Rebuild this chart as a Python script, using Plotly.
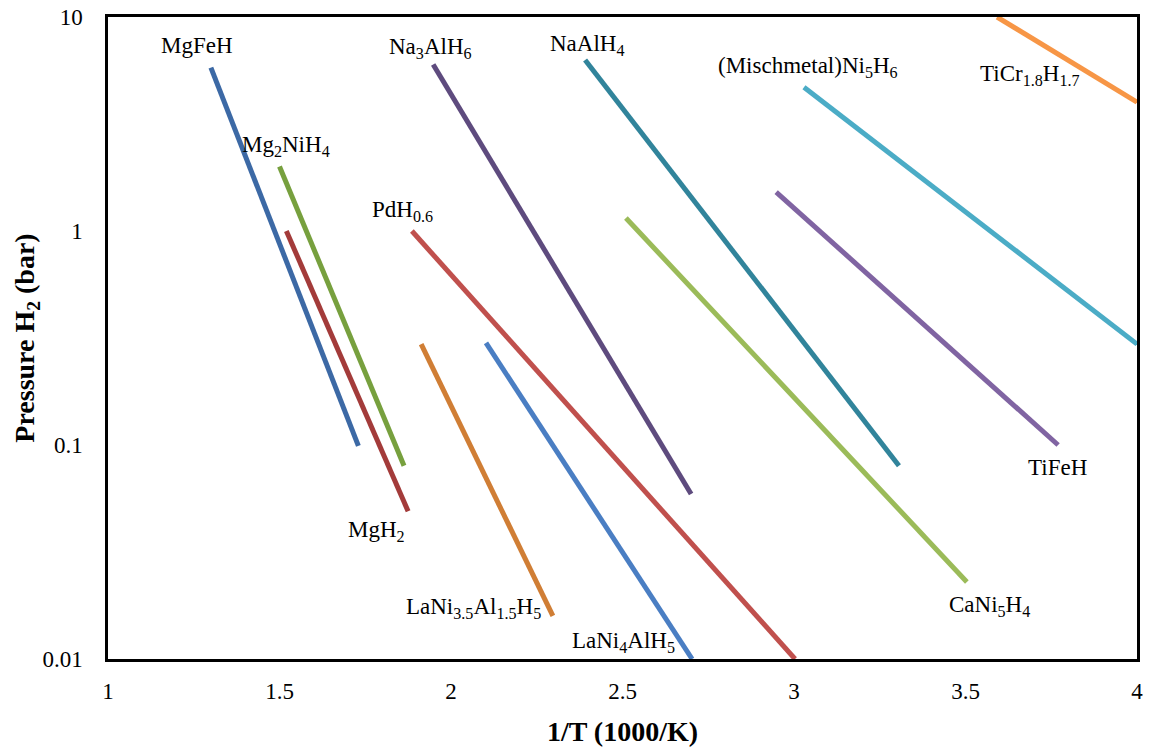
import plotly.graph_objects as go

names = ["MgFeH", "MgH2", "Mg2NiH4", "PdH0.6", "LaNi3.5Al1.5H5", "LaNi4AlH5",
         "Na3AlH6", "NaAlH4", "CaNi5H4", "TiFeH", "(Mischmetal)Ni5H6", "TiCr1.8H1.7"]
x_start = [1.30, 1.52, 1.50, 1.886, 1.913, 2.102, 1.948, 2.391, 2.510, 2.948, 3.029, 3.592]
x_end   = [1.73, 1.875, 1.863, 3.003, 2.297, 2.703, 2.700, 3.306, 3.504, 3.770, 4.0, 4.0]
p_start = [5.8, 1.0, 2.0, 1.0, 0.296, 0.30, 6.0, 6.3, 1.15, 1.52, 4.7, 10.0]
p_end   = [0.099, 0.049, 0.08, 0.01, 0.0159, 0.01, 0.059, 0.08, 0.0229, 0.10, 0.296, 4.0]
colors  = ["#3C69A5", "#A33B3A", "#77A03E", "#C0504D", "#D07E35", "#4A7EC3",
           "#5E4B7E", "#31849B", "#9BBB59", "#8064A2", "#4BACC6", "#F79646"]

label_text = ["MgFeH", "MgH<sub>2</sub>", "Mg<sub>2</sub>NiH<sub>4</sub>", "PdH<sub>0.6</sub>",
              "LaNi<sub>3.5</sub>Al<sub>1.5</sub>H<sub>5</sub>", "LaNi<sub>4</sub>AlH<sub>5</sub>",
              "Na<sub>3</sub>AlH<sub>6</sub>", "NaAlH<sub>4</sub>", "CaNi<sub>5</sub>H<sub>4</sub>",
              "TiFeH", "(Mischmetal)Ni<sub>5</sub>H<sub>6</sub>", "TiCr<sub>1.8</sub>H<sub>1.7</sub>"]
label_x = [1.259, 1.784, 1.519, 1.860, 2.067, 2.504, 1.939, 2.397, 3.569, 3.767, 3.041, 3.688]
label_logy = [0.869, -1.402, 0.397, 0.093, -1.762, -1.921, 0.855, 0.869, -1.752, -1.107, 0.766, 0.729]

x_ticks = [1, 1.5, 2, 2.5, 3, 3.5, 4]
x_ticklabels = ["1", "1.5", "2", "2.5", "3", "3.5", "4"]
y_ticks = [0.01, 0.1, 1, 10]
y_ticklabels = ["0.01", "0.1", "1", "10"]

fig = go.Figure()
for i in range(len(names)):
    fig.add_trace(go.Scatter(
        x=[x_start[i], x_end[i]], y=[p_start[i], p_end[i]], mode="lines",
        line=dict(color=colors[i], width=5), name=names[i], showlegend=False))

font_family = "Liberation Serif"
for i in range(len(names)):
    fig.add_annotation(x=label_x[i], y=label_logy[i], text=label_text[i],
                       showarrow=False, xanchor="center", yanchor="middle",
                       font=dict(family=font_family, size=23, color="black"))

fig.update_layout(
    width=1149, height=749,
    margin=dict(l=108, r=12, t=17, b=90),
    plot_bgcolor="white", paper_bgcolor="white",
    font=dict(family=font_family, size=23, color="black"),
    xaxis=dict(range=[1, 4], tickvals=x_ticks, ticktext=x_ticklabels,
               showgrid=False, zeroline=False, showline=True, linecolor="black",
               linewidth=2.5, mirror=True, ticks="", automargin=False,
               ticklabelstandoff=10, tickfont=dict(size=23),
               title=dict(text="<b>1/T (1000/K)</b>", font=dict(size=28), standoff=19)),
    yaxis=dict(type="log", range=[-2, 1], tickvals=y_ticks, ticktext=y_ticklabels,
               showgrid=False, zeroline=False, showline=True, linecolor="black",
               linewidth=2.5, mirror=True, ticks="", automargin=False,
               ticklabelstandoff=18, tickfont=dict(size=23),
               title=dict(text="<b>Pressure H<sub>2</sub> (bar)</b>", font=dict(size=28), standoff=0)),
)

fig.write_html("out.html")
